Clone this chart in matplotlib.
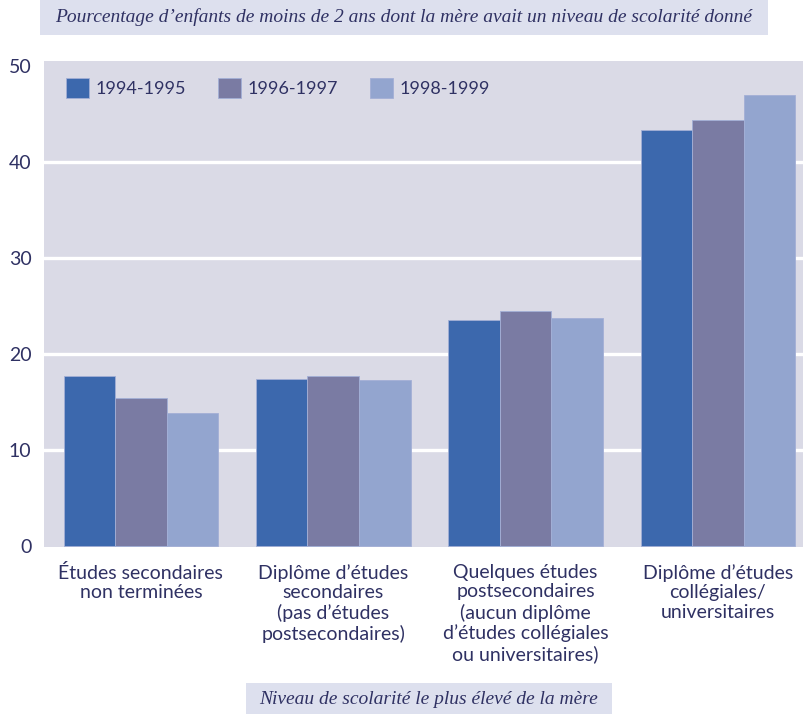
import matplotlib
matplotlib.use("Agg")
import matplotlib.pyplot as plt
from matplotlib.patches import Rectangle
import numpy as np

categories = [
    "Études secondaires\nnon terminées",
    "Diplôme d’études\nsecondaires\n(pas d’études\npostsecondaires)",
    "Quelques études\npostsecondaires\n(aucun diplôme\nd’études collégiales\nou universitaires)",
    "Diplôme d’études\ncollégiales/\nuniversitaires",
]
periods = ["1994-1995", "1996-1997", "1998-1999"]
values_1994_1995 = [17.7, 17.4, 23.5, 43.3]
values_1996_1997 = [15.4, 17.7, 24.5, 44.4]
values_1998_1999 = [13.8, 17.3, 23.7, 47.0]
yticks = [0, 10, 20, 30, 40, 50]

title = "Pourcentage d’enfants de moins de 2 ans dont la mère avait un niveau de scolarité donné"
xlabel = "Niveau de scolarité le plus élevé de la mère"

colors = ["#3c68ad", "#7a7ba3", "#93a5cf"]
edge = "#a3afd6"
bg = "#dadae6"
box_bg = "#dde0ee"
text_color = "#2f3163"

W, H = 804, 714
fig = plt.figure(figsize=(W / 100, H / 100), dpi=100)
ax = fig.add_axes([44 / W, (H - 547) / H, (W - 44) / W, (547 - 61) / H])
ax.set_facecolor(bg)

x = np.arange(len(categories))
width = 0.268
series = [values_1994_1995, values_1996_1997, values_1998_1999]
for i, (vals, col, lab) in enumerate(zip(series, colors, periods)):
    ax.bar(x + (i - 1) * width, vals, width, color=col, edgecolor=edge,
           linewidth=0.6, label=lab, zorder=3)

ax.set_xlim(-0.504, 3.448)
ax.set_ylim(-0.1, 50.5)
ax.set_yticks(yticks)
ax.set_yticklabels([str(v) for v in yticks])
ax.set_xticks(x)
ax.set_xticklabels(categories, linespacing=1.2)
ax.yaxis.grid(True, color="white", linewidth=2.4, zorder=1)
ax.get_ygridlines()[0].set_visible(False)
ax.get_ygridlines()[-1].set_visible(False)
ax.set_axisbelow(True)
for s in ax.spines.values():
    s.set_visible(False)
ax.tick_params(axis="both", length=0, colors=text_color, labelsize=14)
ax.tick_params(axis="y", pad=9)
ax.tick_params(axis="x", pad=12)
for t in ax.get_xticklabels() + ax.get_yticklabels():
    t.set_fontfamily("Lato")
    t.set_color(text_color)

leg = ax.legend(loc="upper left", bbox_to_anchor=(22 / 760, (547 - 78) / 486),
                ncol=3, frameon=False, borderpad=0, borderaxespad=0,
                handlelength=1.3, handleheight=1.3,
                handletextpad=0.35, columnspacing=1.75,
                prop={"family": "Lato", "size": 13})
for t in leg.get_texts():
    t.set_color(text_color)

# Title banner
fig.patches.append(Rectangle((40 / W, 1 - 35 / H), 728 / W, 35 / H,
                             transform=fig.transFigure, facecolor=box_bg,
                             edgecolor="none", zorder=0))
fig.text(404 / W, 1 - 17 / H, title, ha="center", va="center",
         family="Liberation Serif", style="italic", fontsize=14,
         color=text_color)

# Axis title banner
fig.patches.append(Rectangle((246 / W, 0), 366 / W, 31 / H,
                             transform=fig.transFigure, facecolor=box_bg,
                             edgecolor="none", zorder=0))
fig.text(429 / W, 15 / H, xlabel, ha="center", va="center",
         family="Liberation Serif", style="italic", fontsize=14,
         color=text_color)

fig.savefig("out.png", dpi=100, facecolor="white")
